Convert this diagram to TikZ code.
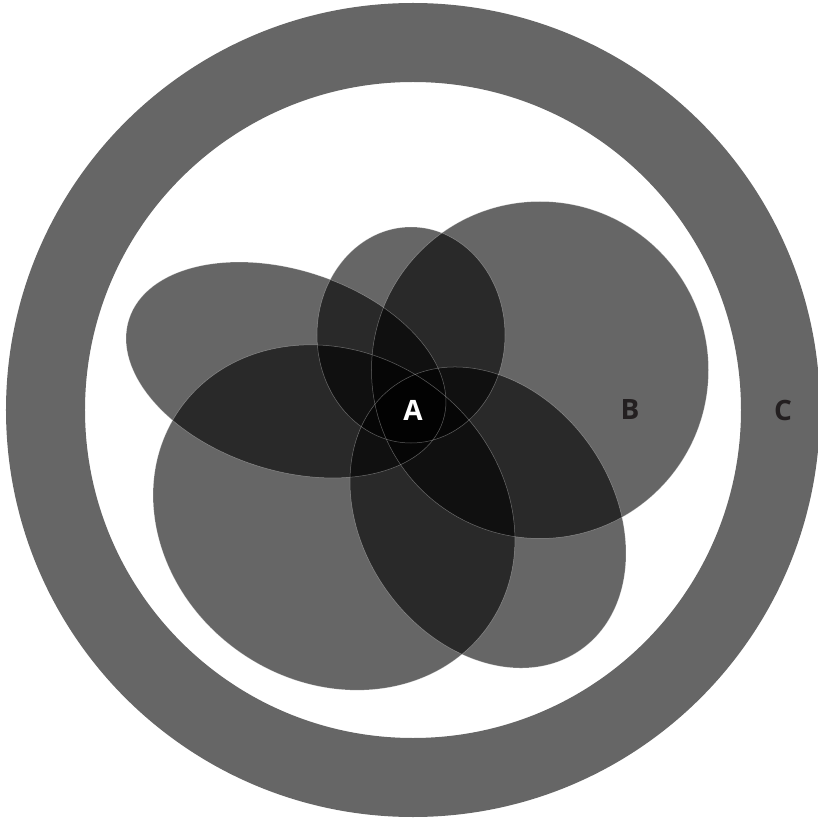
\documentclass[tikz,border=0pt]{standalone}
\usepackage{fontspec}
\setmainfont{Open Sans}
\usepackage{xcolor}
\definecolor{ringgray}{HTML}{666666}
\definecolor{labdark}{HTML}{231F20}

\begin{document}
\begin{tikzpicture}[x=1pt, y=1pt,
    petal/.style={fill=black, fill opacity=0.6},
    rim/.style={draw=white, draw opacity=0.35, line width=0.5pt},
    lab/.style={font=\fontsize{28}{28}\selectfont\bfseries, text=labdark}]
        \useasboundingbox (-413,-409) rectangle (405,410);

        % Outer ring
        \fill[ringgray, even odd rule] (0,0) circle (407) (0,0) circle (328);

        % Define centres of the five ellipses
        \coordinate (E1) at (-127, 40);    % Left
        \coordinate (E2) at (-2, 75);      % Top
        \coordinate (E3) at (127, 40);     % Right
        \coordinate (E4) at (75, -107.5);  % Bottom-right
        \coordinate (E5) at (-79, -107.5); % Bottom-left

        % Fill the ellipses
        \fill[petal, rotate around={-18:(E1)}] (E1) ellipse (165 and 100);
        \fill[petal] (E2) ellipse (94 and 108);
        \fill[petal] (E3) circle (168.5);
        \fill[petal, rotate around={-55:(E4)}] (E4) ellipse (161.6 and 124.8);
        \fill[petal, rotate around={-35:(E5)}] (E5) ellipse (188.5 and 164.3);

        % Thin outlines on top
        \draw[rim, rotate around={-18:(E1)}] (E1) ellipse (165 and 100);
        \draw[rim] (E2) ellipse (94 and 108);
        \draw[rim] (E3) circle (168.5);
        \draw[rim, rotate around={-55:(E4)}] (E4) ellipse (161.6 and 124.8);
        \draw[rim, rotate around={-35:(E5)}] (E5) ellipse (188.5 and 164.3);

        % Labels
        \node[lab, text=white] (A) at (0,0) {A};
        \node[lab] (B) at (217,0) {B};
        \node[lab] (C) at (370,0) {C};
\end{tikzpicture}
\end{document}
